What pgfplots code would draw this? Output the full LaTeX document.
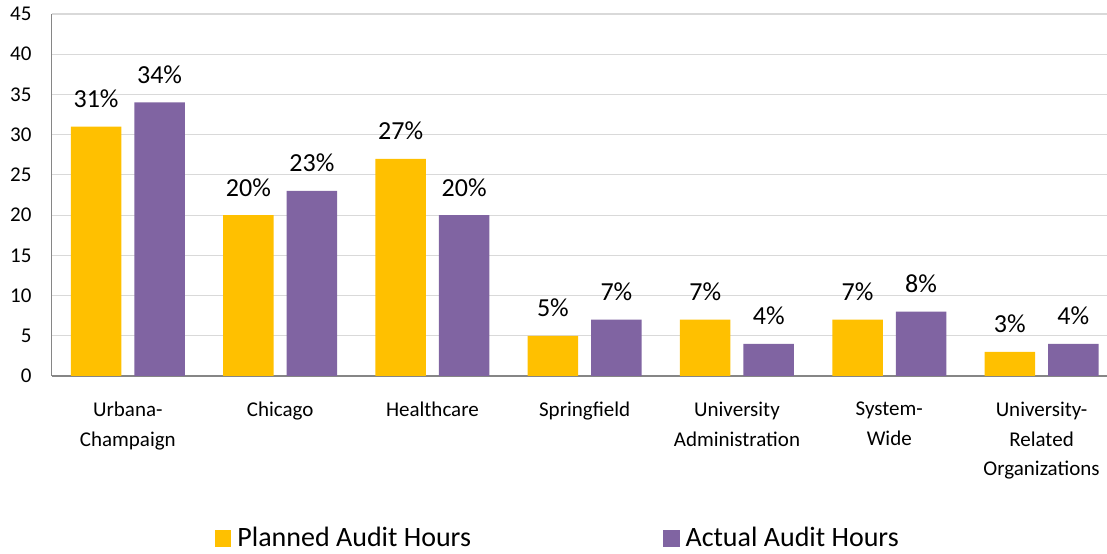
\documentclass[border=0pt]{standalone}
\usepackage{pgfplots}
\pgfplotsset{compat=1.18}
\usepackage{fontspec}
\setmainfont{Carlito}
\usetikzlibrary{calc}
\definecolor{gold}{HTML}{FFC000}
\definecolor{purp}{HTML}{8064A2}
\definecolor{gridc}{HTML}{D9D9D9}
\definecolor{axc}{HTML}{868686}
\begin{document}
\begin{tikzpicture}
\begin{axis}[
  name=ax,
  scale only axis,
  width=1055.3pt, height=362pt,
  xmin=-0.5, xmax=6.43,
  ymin=0, ymax=45,
  ytick={0,5,...,45},
  xtick={0,1,2,3,4,5,6},
  xticklabels={{Urbana-\\Champaign},{Chicago},{Healthcare},{Springfield},{University\\Administration},{System-\\Wide},{University-\\Related\\Organizations}},
  /pgf/number format/assume math mode=true,
  axis x line=bottom, axis y line=left,
  axis line style={-, draw=axc, line width=1.6pt},
  major tick length=0pt,
  ymajorgrids,
  major grid style={draw=gridc, line width=1.1pt},
  yticklabel style={font=\fontsize{21}{25}\selectfont, anchor=east, inner sep=0pt, xshift=-20pt},
  xticklabel style={font=\fontsize{21}{29.5}\selectfont, align=center, anchor=north, inner sep=0pt, yshift=-26pt},
  ybar=13pt, bar width=50.5pt,
  nodes near coords={\pgfmathprintnumber{\pgfplotspointmeta}\%},
  every node near coord/.append style={font=\fontsize{26}{30}\selectfont, anchor=base, inner sep=0pt, yshift=19pt, text=black},
  legend columns=2,
  legend style={at={(0.1547,-0.4453)}, anchor=west, draw=none, inner sep=0pt, outer sep=0pt,
    font=\fontsize{28}{32}\selectfont, nodes={inner sep=0pt},
    /tikz/every odd column/.append style={column sep=6pt},
    /tikz/every even column/.append style={column sep=192pt}},
  legend cell align=left,
  legend image code/.code={\path (0pt,-22pt) (0pt,22pt); \fill[#1,draw=none] (0pt,-9.8pt) rectangle (16.5pt,6.7pt);},
]
\addplot[fill=gold, draw=none] coordinates {(0,31) (1,20) (2,27) (3,5) (4,7) (5,7) (6,3)};
\addplot[fill=purp, draw=none] coordinates {(0,34) (1,23) (2,20) (3,7) (4,4) (5,8) (6,4)};
\legend{Planned Audit Hours, Actual Audit Hours}
\end{axis}
\pgfresetboundingbox
\path ($(ax.south west)+(-51.7pt,-178pt)$) rectangle ($(ax.north east)+(0pt,14pt)$);
\end{tikzpicture}
\end{document}
